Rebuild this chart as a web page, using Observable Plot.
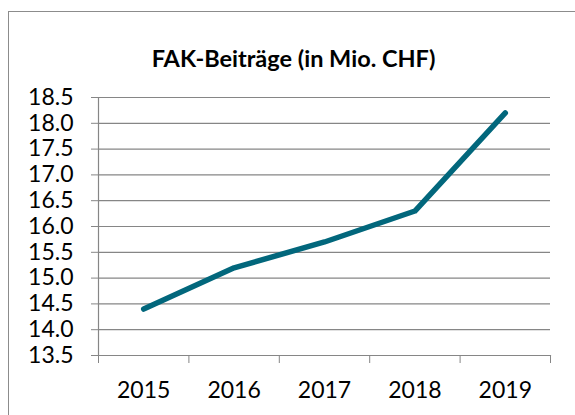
<!DOCTYPE html>
<html>
<head>
<meta charset="utf-8">
<script src="https://cdn.jsdelivr.net/npm/d3@7"></script>
<script src="https://cdn.jsdelivr.net/npm/@observablehq/plot@0.6"></script>
<style>
  html, body { margin: 0; padding: 0; background: #fff; overflow: hidden; }
  #wrap { position: relative; width: 575px; height: 415px; }
  #border { position: absolute; left: 8px; top: 11px; width: 700px; height: 600px;
            border-left: 1.5px solid #8c8c8c; border-top: 1.5px solid #8c8c8c; }
  #chart { position: absolute; left: 0; top: 0; }
</style>
</head>
<body>
<div id="wrap"><div id="border"></div><div id="chart"></div></div>
<script>
const title = "FAK-Beiträge (in Mio. CHF)";
const years = [2015, 2016, 2017, 2018, 2019];
const values = [14.4, 15.2, 15.7, 16.3, 18.2];
const yTicks = [13.5, 14.0, 14.5, 15.0, 15.5, 16.0, 16.5, 17.0, 17.5, 18.0, 18.5];

const data = years.map((year, i) => ({year, value: values[i]}));
const bandEdges = [years[0] - 0.5, ...years.map(y => y + 0.5)];
const gray = "#868686";
const font = "Lato, 'Open Sans', sans-serif";

const chart = Plot.plot({
  width: 575,
  height: 415,
  marginLeft: 98,
  marginRight: 25,
  marginTop: 97,
  marginBottom: 60,
  style: {fontFamily: font, fontSize: "23px", color: "#000", background: "transparent", overflow: "visible"},
  x: {domain: [years[0] - 0.5, years[years.length - 1] + 0.5]},
  y: {domain: [yTicks[0], yTicks[yTicks.length - 1]]},
  marks: [
    Plot.gridY(yTicks, {stroke: gray, strokeOpacity: 1, strokeWidth: 1.2}),
    Plot.axisY(yTicks, {tickSize: 7, tickPadding: 18, stroke: gray, fill: "#000",
      tickFormat: d => d.toFixed(1), label: null, fontSize: 23}),
    Plot.frame({anchor: "left", stroke: gray, strokeWidth: 1.2}),
    Plot.frame({anchor: "bottom", stroke: gray, strokeWidth: 1.2}),
    Plot.axisX(bandEdges, {tickSize: 8, stroke: gray, tickFormat: () => "", label: null}),
    Plot.axisX(years, {tickSize: 0, tickPadding: 26, fill: "#000", tickFormat: d => String(d), label: null, fontSize: 23}),
    Plot.line(data, {x: "year", y: "value", stroke: "#02677c", strokeWidth: 5.5,
      strokeLinecap: "round", strokeLinejoin: "round"}),
    Plot.text([title], {frameAnchor: "top", dy: -47, dx: -31, fontWeight: "bold",
      fontSize: 23.5, fill: "#000", fontFamily: font})
  ]
});
document.getElementById("chart").appendChild(chart);
</script>
</body>
</html>
